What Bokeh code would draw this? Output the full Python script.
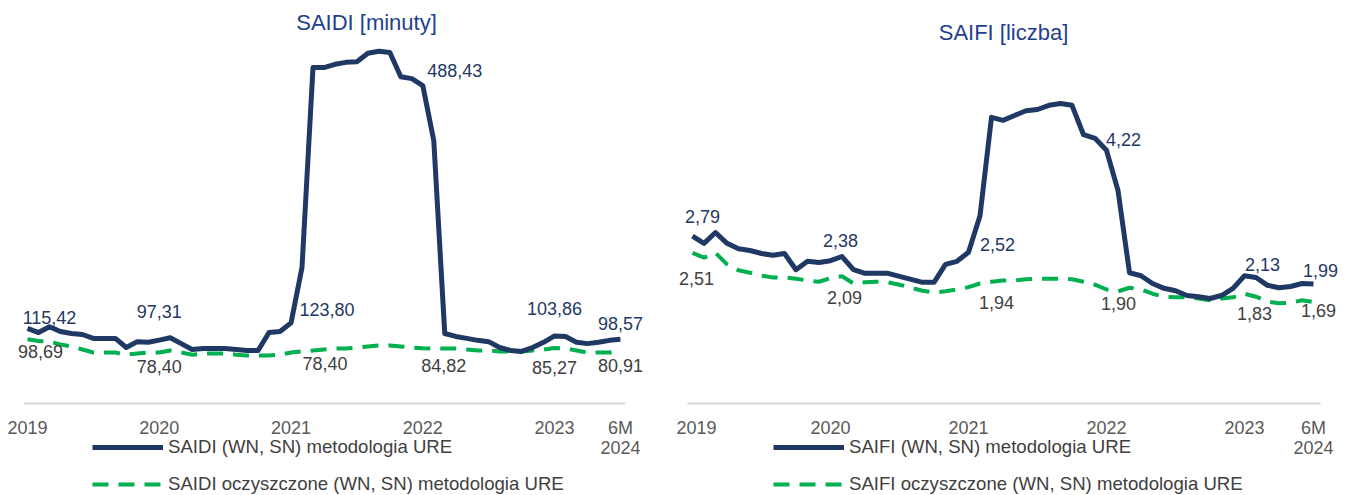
from bokeh.plotting import figure
from bokeh.models import Range1d, FixedTicker, Legend, LegendItem, Label, ColumnDataSource
from bokeh.core.properties import value
from bokeh.layouts import row
from bokeh.embed import file_html
from bokeh.resources import INLINE

# ---------------- data ----------------
months = list(range(55))  # monthly points: 2019 ... 6M 2024
tick_pos = [0, 12, 24, 36, 48, 54]
tick_labels = ["2019", "2020", "2021", "2022", "2023", "6M\n2024"]

saidi = [115.42, 109, 118, 110.6, 107.5, 106, 100, 100, 100, 86, 95, 94,
         97.31, 101, 92, 83, 84.5, 84.5, 84.5, 83, 81.4, 81.4, 109, 110.6,
         123.80, 209, 516, 516, 521, 524, 525, 538, 541, 539, 502, 499,
         488.43, 404, 107.5, 103, 100, 97, 95, 86, 81.4, 80, 86, 94,
         103.86, 103, 94, 92, 94, 97, 98.57]
saidi_clean = [98.69, 96, 95, 90.6, 87.5, 83, 78.3, 78.3, 78.3, 75, 76.8, 78.3,
               78.40, 81.4, 78.3, 75, 76.8, 76.8, 76.8, 75, 73.7, 73.7, 73.7, 75,
               78.40, 80, 81.4, 83, 84.5, 84.5, 86, 87.5, 89, 89, 87.5, 86,
               84.82, 84.5, 84.5, 84.5, 83, 81.4, 81.4, 80, 80, 80, 81.4, 83,
               85.27, 84.5, 81.4, 78.3, 78.3, 78.3, 80.91]
saifi = [2.79, 2.67, 2.85, 2.67, 2.58, 2.55, 2.50, 2.47, 2.50, 2.23, 2.37, 2.35,
         2.38, 2.45, 2.23, 2.17, 2.17, 2.17, 2.12, 2.07, 2.02, 2.02, 2.32, 2.37,
         2.52, 3.13, 4.77, 4.72, 4.80, 4.88, 4.90, 4.97, 5.00, 4.97, 4.48, 4.42,
         4.22, 3.55, 2.18, 2.13, 2.00, 1.92, 1.88, 1.80, 1.78, 1.75, 1.80, 1.92,
         2.13, 2.10, 1.97, 1.93, 1.95, 2.00, 1.99]
saifi_clean = [2.51, 2.43, 2.51, 2.32, 2.22, 2.18, 2.13, 2.10, 2.10, 2.08, 2.05, 2.03,
               2.09, 2.12, 2.00, 2.02, 2.03, 2.02, 1.98, 1.93, 1.88, 1.85, 1.87, 1.90,
               1.94, 2.00, 2.03, 2.05, 2.05, 2.07, 2.08, 2.08, 2.08, 2.07, 2.03, 1.98,
               1.90, 1.87, 1.93, 1.90, 1.83, 1.78, 1.77, 1.77, 1.75, 1.72, 1.75, 1.77,
               1.83, 1.78, 1.70, 1.67, 1.68, 1.72, 1.69]

label_idx = [0, 12, 24, 36, 48, 54]

# ---------------- style ----------------
FONT = "Liberation Sans"
NAVY = "#1F3864"
GREEN = "#00B050"
GREY_TXT = "#404040"
AXIS_TXT = "#595959"
TITLE_C = "#1F3F8F"
H = 495


def fmt(v):
    return f"{v:.2f}".replace(".", ",")


def make_chart(title, main, clean, main_name, clean_name, width, xr, yr, base,
               title_pos, main_off, clean_off, legend_x):
    p = figure(width=width, height=H, x_range=Range1d(*xr), y_range=Range1d(*yr),
               output_backend="svg", toolbar_location=None, y_axis_location=None,
               min_border_left=0, min_border_right=0, min_border_top=0,
               min_border_bottom=0, outline_line_color=None)
    p.grid.visible = False
    ax = p.xaxis[0]
    ax.fixed_location = 0
    ax.ticker = FixedTicker(ticks=tick_pos)
    ax.major_label_overrides = {t: l for t, l in zip(tick_pos, tick_labels)}
    ax.axis_line_color = None
    ax.major_tick_line_color = None
    ax.minor_tick_line_color = None
    ax.major_label_standoff = 8
    ax.major_label_text_font = FONT
    ax.major_label_text_font_size = "18px"
    ax.major_label_text_color = AXIS_TXT
    ax.major_label_text_line_height = 1.0

    # baseline
    p.segment(x0=[base[0]], y0=[0], x1=[base[1]], y1=[0], line_color="#D9D9D9", line_width=2)

    r_clean = p.line(months, clean, line_color=GREEN, line_width=4, line_dash="16 10")
    r_main = p.line(months, main, line_color=NAVY, line_width=5, line_join="round")

    # data labels
    src_m = ColumnDataSource(dict(x=label_idx, y=[main[i] for i in label_idx],
                                  t=[fmt(main[i]) for i in label_idx],
                                  dx=[o[0] for o in main_off], dy=[o[1] for o in main_off]))
    p.text(x="x", y="y", text="t", x_offset="dx", y_offset="dy", source=src_m,
           text_align="center", text_baseline="middle", text_color=NAVY,
           text_font=value(FONT), text_font_size="18px")
    src_c = ColumnDataSource(dict(x=label_idx, y=[clean[i] for i in label_idx],
                                  t=[fmt(clean[i]) for i in label_idx],
                                  dx=[o[0] for o in clean_off], dy=[o[1] for o in clean_off]))
    p.text(x="x", y="y", text="t", x_offset="dx", y_offset="dy", source=src_c,
           text_align="center", text_baseline="middle", text_color=GREY_TXT,
           text_font=value(FONT), text_font_size="18px")

    p.add_layout(Label(x=title_pos[0], y=title_pos[1], x_units="screen", y_units="screen",
                       text=title, text_align="center", text_baseline="middle",
                       text_color=TITLE_C, text_font=FONT, text_font_size="22px"))

    legend = Legend(items=[LegendItem(label=main_name, renderers=[r_main]),
                           LegendItem(label=clean_name, renderers=[r_clean])],
                    location=(legend_x, 0), orientation="vertical",
                    glyph_width=71, glyph_height=20, label_height=20, label_standoff=5,
                    spacing=15, padding=0, margin=0, border_line_color=None,
                    background_fill_alpha=0, label_text_font=FONT,
                    label_text_font_size="18.6px", label_text_color=GREY_TXT)
    p.add_layout(legend)
    return p


p1 = make_chart("SAIDI [minuty]", saidi, saidi_clean,
                "SAIDI (WN, SN) metodologia URE", "SAIDI oczyszczone (WN, SN) metodologia URE",
                676, (-2.459, 59.107), (-141.3, 619.0), (-0.36, 54.46),
                (366, 473),
                [(22, -11), (0, -29), (36, -13), (32, -15), (0, -27), (0, -16)],
                [(13, 12), (0, 14), (34, 11), (21, 17), (0, 20), (0, 15)],
                92)
p2 = make_chart("SAIFI [liczba]", saifi, saifi_clean,
                "SAIFI (WN, SN) metodologia URE", "SAIFI oczyszczone (WN, SN) metodologia URE",
                673, (-1.391, 57.13), (-1.533, 6.717), (-0.435, 54.61),
                (327, 463),
                [(10, -20), (10, -20), (29, -8), (17, -11), (18, -11), (7, -14)],
                [(4, 26), (14, 19), (28, 15), (12, 14), (10, 20), (5, 8)],
                97)

layout = row(p1, p2, spacing=0)
open("out.html", "w").write(file_html(layout, INLINE))
